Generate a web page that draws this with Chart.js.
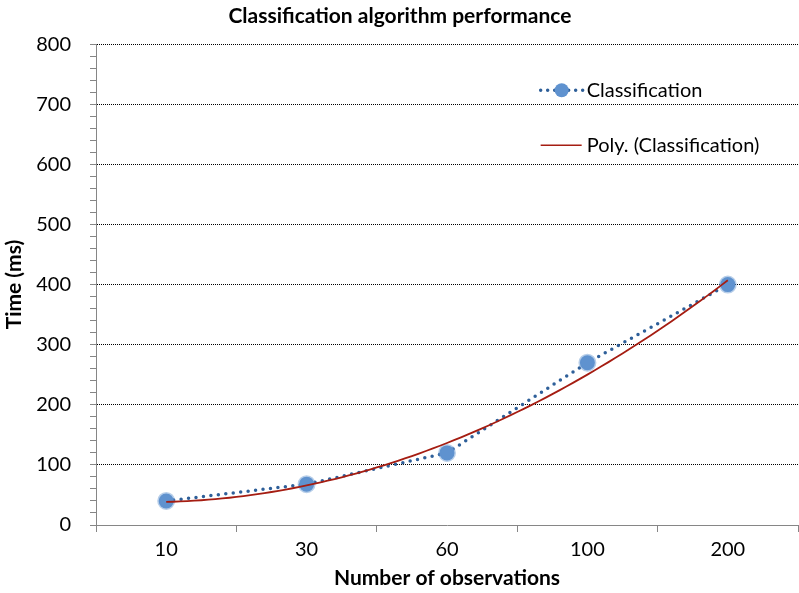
<!DOCTYPE html>
<html>
<head>
<meta charset="utf-8">
<script src="https://cdn.jsdelivr.net/npm/chart.js@4.4.0/dist/chart.umd.min.js"></script>
<style>
  body { margin: 0; background: #fff; }
  #wrap { width: 799px; height: 593px; }
</style>
</head>
<body>
<div id="wrap"><canvas id="perfChart" width="799" height="593"></canvas></div>
<script>
// Data
const categories = ["10", "30", "60", "100", "200"];
const timesMs = [40, 68, 120, 270, 400];
const yTicks = [0, 100, 200, 300, 400, 500, 600, 700, 800];

const FONT = "Lato";
const blue = "#2e5f99";
const markerBlue = "#5f92cf";
const red = "#a51d12";

// x positions of the categories (1..n)
const xs = categories.map((c, i) => i + 1);
const seriesPoints = xs.map((x, i) => ({ x: x, y: timesMs[i] }));

// Polynomial (order 2) trendline fitted like Excel does, least squares
function polyFit2(xv, yv) {
  let n = xv.length, sx = 0, sx2 = 0, sx3 = 0, sx4 = 0, sy = 0, sxy = 0, sx2y = 0;
  for (let i = 0; i < n; i++) {
    const x = xv[i], y = yv[i];
    sx += x; sx2 += x * x; sx3 += x * x * x; sx4 += x * x * x * x;
    sy += y; sxy += x * y; sx2y += x * x * y;
  }
  // solve 3x3 normal equations
  const m = [[n, sx, sx2, sy], [sx, sx2, sx3, sxy], [sx2, sx3, sx4, sx2y]];
  for (let c = 0; c < 3; c++) {
    for (let r = c + 1; r < 3; r++) {
      const f = m[r][c] / m[c][c];
      for (let k = c; k < 4; k++) m[r][k] -= f * m[c][k];
    }
  }
  const coef = [0, 0, 0];
  for (let r = 2; r >= 0; r--) {
    let s = m[r][3];
    for (let k = r + 1; k < 3; k++) s -= m[r][k] * coef[k];
    coef[r] = s / m[r][r];
  }
  return coef;
}
const coef = polyFit2(xs, timesMs);
const trendPoints = [];
for (let x = xs[0]; x <= xs[xs.length - 1] + 1e-9; x += 0.05) {
  trendPoints.push({ x: x, y: coef[0] + coef[1] * x + coef[2] * x * x });
}

// Legend drawn inside the plot area, top right
const insideLegend = {
  id: "insideLegend",
  afterDraw(chart) {
    const ctx = chart.ctx;
    const a = chart.chartArea;
    const x0 = a.left + (a.right - a.left) * 0.632;
    const y1 = a.top + 46, y2 = a.top + 101;
    ctx.save();
    // dotted sample with marker
    ctx.strokeStyle = blue;
    ctx.lineWidth = 3.5;
    ctx.lineCap = "round";
    ctx.setLineDash([0, 7]);
    ctx.beginPath();
    ctx.moveTo(x0 + 1, y1);
    ctx.lineTo(x0 + 44, y1);
    ctx.stroke();
    ctx.setLineDash([]);
    ctx.fillStyle = markerBlue;
    ctx.beginPath();
    ctx.arc(x0 + 22, y1, 7, 0, Math.PI * 2);
    ctx.fill();
    // trendline sample
    ctx.strokeStyle = red;
    ctx.lineWidth = 1.5;
    ctx.lineCap = "butt";
    ctx.beginPath();
    ctx.moveTo(x0 + 1, y2);
    ctx.lineTo(x0 + 42, y2);
    ctx.stroke();
    ctx.fillStyle = "#000";
    ctx.font = "20px " + FONT;
    ctx.textBaseline = "middle";
    ctx.fillText("Classification", x0 + 47, y1);
    ctx.fillText("Poly. (Classification)", x0 + 47, y2);
    ctx.restore();
  }
};

const ctx = document.getElementById("perfChart").getContext("2d");
new Chart(ctx, {
  type: "scatter",
  data: {
    datasets: [
      {
        label: "Poly. (Classification)",
        data: trendPoints,
        showLine: true,
        borderColor: red,
        borderWidth: 1.8,
        pointRadius: 0,
        tension: 0,
        order: 1
      },
      {
        label: "Classification",
        data: seriesPoints,
        showLine: true,
        borderColor: blue,
        borderWidth: 3.5,
        borderDash: [0, 7.5],
        borderCapStyle: "round",
        pointStyle: "circle",
        pointRadius: 7.5,
        pointBackgroundColor: markerBlue,
        pointBorderColor: "rgba(95,146,207,0.45)",
        pointBorderWidth: 3,
        order: 2
      }
    ]
  },
  options: {
    responsive: false,
    animation: false,
    layout: { autoPadding: false, padding: { left: 2, right: 1, top: 0, bottom: 2 } },
    plugins: {
      legend: { display: false },
      tooltip: { enabled: false },
      title: {
        display: true,
        text: "Classification algorithm performance",
        color: "#000",
        font: { family: FONT, size: 21, weight: "bold" },
        padding: { top: 4, bottom: 15 }
      }
    },
    scales: {
      x: {
        type: "linear",
        min: 0.5,
        max: xs.length + 0.5,
        afterBuildTicks(scale) {
          const t = [];
          for (let v = 0.5; v <= xs.length + 0.5; v += 0.5) t.push({ value: v });
          scale.ticks = t;
        },
        afterFit(scale) {
          scale.height = 66;
          scale.paddingLeft = 0;
          scale.paddingRight = 0;
        },
        ticks: {
          autoSkip: false,
          maxRotation: 0,
          color: "#000",
          font: { family: FONT, size: 20, lineHeight: 1.8 },
          padding: 0,
          callback: (v) => Number.isInteger(v) ? categories[v - 1] : ""
        },
        grid: {
          drawOnChartArea: false,
          tickLength: 7,
          tickColor: (c) => (c.tick && Number.isInteger(c.tick.value)) ? "transparent" : "#868686"
        },
        border: { color: "#868686", width: 1 },
        title: {
          display: true,
          text: "Number of observations",
          color: "#000",
          font: { family: FONT, size: 21, weight: "bold" },
          padding: { top: 3, bottom: 0 }
        }
      },
      y: {
        min: yTicks[0],
        max: yTicks[yTicks.length - 1],
        afterBuildTicks(scale) {
          const t = [];
          for (let v = yTicks[0]; v <= yTicks[yTicks.length - 1]; v += 20) t.push({ value: v });
          scale.ticks = t;
        },
        afterFit(scale) { scale.width = 94; },
        ticks: {
          autoSkip: false,
          color: "#000",
          font: { family: FONT, size: 20 },
          padding: 19,
          callback: (v) => yTicks.includes(v) ? String(v) : ""
        },
        grid: {
          tickLength: 6,
          color: (c) => (c.tick && c.tick.value > 0 && yTicks.includes(c.tick.value)) ? "#000" : "transparent",
          tickColor: "#868686"
        },
        border: { color: "#868686", width: 1, dash: [1, 1] },
        title: {
          display: true,
          text: "Time (ms)",
          color: "#000",
          font: { family: FONT, size: 21, weight: "bold" },
          padding: { top: 0, bottom: 5 }
        }
      }
    }
  },
  plugins: [insideLegend]
});
</script>
</body>
</html>
